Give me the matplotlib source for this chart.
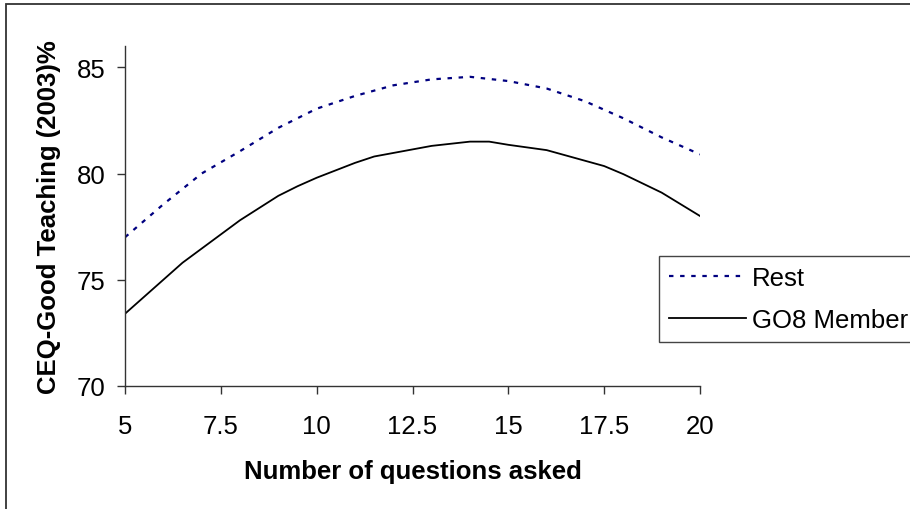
import matplotlib
matplotlib.use("Agg")
import matplotlib.pyplot as plt
from matplotlib.patches import Rectangle

plt.rcParams['font.family'] = ['Liberation Sans', 'DejaVu Sans']

# Data
rest_x = [5, 6, 7, 8, 9, 10, 11, 12, 13, 14, 15, 16, 17, 18, 19, 20]
rest_y = [77.0, 78.55, 80.0, 81.05, 82.15, 83.05, 83.65, 84.15, 84.43, 84.55, 84.35, 84.0, 83.4, 82.6, 81.7, 80.9]

go8_x = [5, 6.5, 8, 9, 9.5, 10, 11, 11.5, 13, 14, 14.5, 15, 16, 17.5, 18, 19, 20]
go8_y = [73.4, 75.8, 77.8, 78.95, 79.4, 79.8, 80.5, 80.8, 81.3, 81.5, 81.5, 81.35, 81.1, 80.35, 79.97, 79.1, 78.0]

x_ticks = [5, 7.5, 10, 12.5, 15, 17.5, 20]
x_labels = ["5", "7.5", "10", "12.5", "15", "17.5", "20"]
y_ticks = [70, 75, 80, 85]

FS = 18.5

fig = plt.figure(figsize=(9.1, 5.1), dpi=100)
ax = fig.add_axes([125/910, 1 - 387/510, 575/910, 340/510])

ax.plot(rest_x, rest_y, color="#000080", lw=1.6, linestyle=(0, (2, 3)), label="Rest")
ax.plot(go8_x, go8_y, color="black", lw=1.3, label="GO8 Member")

ax.set_xlim(5, 20)
ax.set_ylim(70, 86)
ax.set_xticks(x_ticks)
ax.set_xticklabels(x_labels)
ax.set_yticks(y_ticks)

for s in ["top", "right"]:
    ax.spines[s].set_visible(False)
for s in ["left", "bottom"]:
    ax.spines[s].set_linewidth(1.0)
    ax.spines[s].set_color("#333333")

ax.tick_params(axis="both", direction="out", length=6, width=1, color="#333333", labelsize=FS)
ax.tick_params(axis="x", pad=14)
ax.tick_params(axis="y", pad=8)

ax.set_xlabel("Number of questions asked", fontsize=FS, fontweight="bold")
ax.set_ylabel("CEQ-Good Teaching (2003)%", fontsize=FS, fontweight="bold")
ax.xaxis.label.set_va("center")
ax.yaxis.label.set_va("center")
ax.xaxis.set_label_coords(0.5, (387 - 472) / 340)
ax.yaxis.set_label_coords((49 - 125) / 575, 0.5)

leg = fig.legend(loc="upper left", bbox_to_anchor=(659/910, 1 - 257/510),
                 fontsize=FS, frameon=True, fancybox=False, framealpha=1,
                 edgecolor="#444444", handlelength=3.0, handletextpad=0.23,
                 labelspacing=0.72, borderpad=0.38, borderaxespad=0)
leg.get_frame().set_linewidth(1.0)

# outer chart border (clipped at right and bottom in the original)
fig.patches.append(Rectangle((6/910, -0.1), 2, 1.1 - 5/510, transform=fig.transFigure,
                             fill=False, edgecolor="#333333", lw=1.3))

fig.savefig("out.png", dpi=100)
